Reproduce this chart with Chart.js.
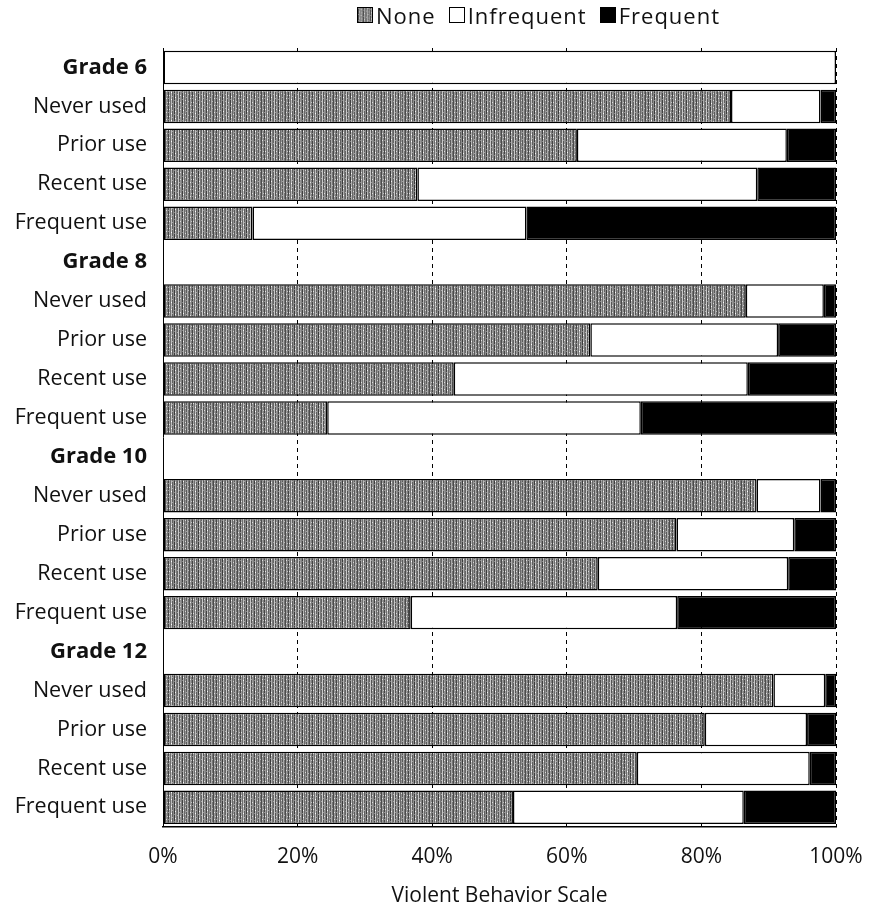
<!DOCTYPE html>
<html>
<head>
<meta charset="utf-8">
<script src="https://cdn.jsdelivr.net/npm/chart.js@4.4.1/dist/chart.umd.min.js"></script>
<style>
  html, body { margin: 0; padding: 0; background: #fff; }
  #wrap { position: relative; width: 870px; height: 911px; }
  #legend { position: absolute; top: 0px; left: 357px; font-family: "Open Sans", sans-serif; font-size: 22px; letter-spacing: 1px; color: #111; display: flex; align-items: center; white-space: nowrap; }
  #legend span.item { display: inline-flex; align-items: center; margin-right: 13px; }
  #legend canvas, #legend i { width: 16px; height: 16px; border: 1px solid #000; box-sizing: border-box; margin-right: 3px; display: inline-block; }
</style>
</head>
<body>
<div id="wrap">
  <div id="legend"></div>
  <canvas id="chart" width="870" height="911"></canvas>
</div>
<script>
// rows, top to bottom
const rowLabels = [
  'Grade 6', 'Never used', 'Prior use', 'Recent use', 'Frequent use',
  'Grade 8', 'Never used', 'Prior use', 'Recent use', 'Frequent use',
  'Grade 10', 'Never used', 'Prior use', 'Recent use', 'Frequent use',
  'Grade 12', 'Never used', 'Prior use', 'Recent use', 'Frequent use'
];
const headerRows = [0, 5, 10, 15];

// percentages (header rows null; grade 6 header shows an empty box)
const noneValues = [
  null, 84.4, 61.5, 37.8, 13.3,
  null, 86.6, 63.5, 43.2, 24.4,
  null, 88.2, 76.3, 64.6, 36.8,
  null, 90.7, 80.5, 70.4, 52.0
];
const infrequentValues = [
  100, 13.3, 31.2, 50.5, 40.7,
  null, 11.6, 27.9, 43.7, 46.6,
  null, 9.5, 17.5, 28.3, 39.6,
  null, 7.7, 15.2, 25.7, 34.3
];
const frequentValues = [
  null, 2.3, 7.3, 11.7, 46.0,
  null, 1.8, 8.6, 13.1, 29.0,
  null, 2.3, 6.2, 7.1, 23.6,
  null, 1.6, 4.3, 3.9, 13.7
];
const xTicks = ['0%', '20%', '40%', '60%', '80%', '100%'];

// grey vertical streak texture for "None"
function makePattern() {
  const shades = [70, 160, 110, 190, 95, 140, 60, 175, 120, 100, 200, 85, 150, 130, 65, 180, 105, 145, 90, 170, 115, 75, 155, 125];
  const c = document.createElement('canvas');
  c.width = shades.length; c.height = 7;
  const g = c.getContext('2d');
  shades.forEach((s, i) => {
    for (let y = 0; y < 7; y++) {
      const v = (i * 3 + y * 2) % 11 === 0 ? Math.min(255, s + 70) : s;
      g.fillStyle = 'rgb(' + v + ',' + v + ',' + v + ')';
      g.fillRect(i, y, 1, 1);
    }
  });
  return c;
}
const patCanvas = makePattern();
const ctx = document.getElementById('chart').getContext('2d');
const nonePattern = ctx.createPattern(patCanvas, 'repeat');

// html legend
const legendItems = [
  { label: 'None', fill: 'pattern' },
  { label: 'Infrequent', fill: '#fff' },
  { label: 'Frequent', fill: '#000' }
];
const legendEl = document.getElementById('legend');
legendItems.forEach(it => {
  const span = document.createElement('span');
  span.className = 'item';
  let sw;
  if (it.fill === 'pattern') {
    sw = document.createElement('canvas');
    sw.width = 16; sw.height = 16;
    const sg = sw.getContext('2d');
    sg.fillStyle = sg.createPattern(patCanvas, 'repeat');
    sg.fillRect(0, 0, 16, 16);
  } else {
    sw = document.createElement('i');
    sw.style.background = it.fill;
  }
  span.appendChild(sw);
  span.appendChild(document.createTextNode(it.label));
  legendEl.appendChild(span);
});

const barStyle = {
  borderColor: '#000',
  borderWidth: 1.5,
  borderSkipped: false,
  categoryPercentage: 1.0,
  barPercentage: 0.86
};

const labelFont = 'Open Sans';

new Chart(ctx, {
  type: 'bar',
  data: {
    labels: rowLabels,
    datasets: [
      Object.assign({ label: 'None', data: noneValues, backgroundColor: nonePattern }, barStyle),
      Object.assign({ label: 'Infrequent', data: infrequentValues, backgroundColor: '#fff' }, barStyle),
      Object.assign({ label: 'Frequent', data: frequentValues, backgroundColor: '#000' }, barStyle)
    ]
  },
  options: {
    indexAxis: 'y',
    responsive: false,
    animation: false,
    layout: { padding: { top: 48, right: 34, bottom: 4, left: 0 } },
    plugins: {
      legend: { display: false },
      tooltip: { enabled: false }
    },
    scales: {
      x: {
        stacked: true,
        min: 0,
        max: 100,
        ticks: {
          stepSize: 20,
          color: '#111',
          padding: 4,
          font: { family: labelFont, size: 21 },
          callback: (v, i) => xTicks[i]
        },
        grid: { color: '#000', lineWidth: 1, drawTicks: true, tickLength: 14, tickColor: 'rgba(0,0,0,0)' },
        border: { display: true, color: '#000', width: 1.5, dash: [4, 4] },
        title: {
          display: true,
          text: 'Violent Behavior Scale',
          color: '#111',
          font: { family: labelFont, size: 21, lineHeight: 1.0 },
          padding: { top: 12, bottom: 0 }
        }
      },
      y: {
        stacked: true,
        afterFit: s => { s.width = 163; },
        grid: { display: false, drawTicks: false },
        border: { display: true, color: '#000', width: 1, dash: [3, 2] },
        ticks: {
          color: '#111',
          padding: 16,
          autoSkip: false,
          font: c => ({
            family: labelFont,
            size: headerRows.includes(c.index) ? 22 : 21.5,
            weight: headerRows.includes(c.index) ? 'bold' : 'normal'
          })
        }
      }
    }
  }
});
</script>
</body>
</html>
